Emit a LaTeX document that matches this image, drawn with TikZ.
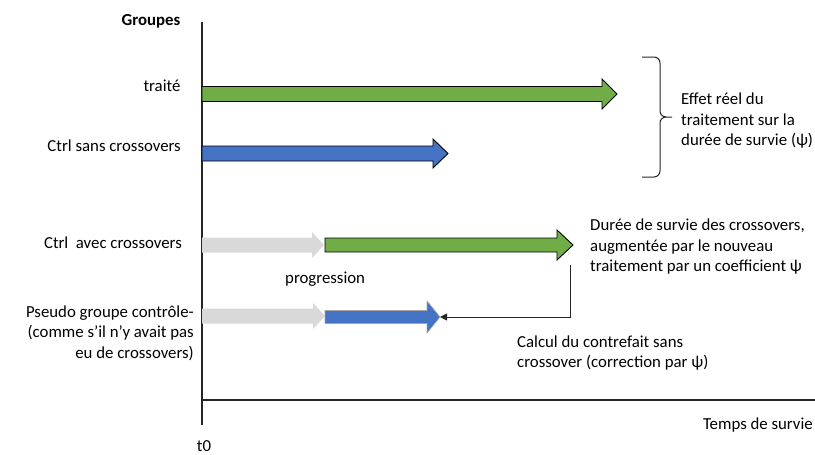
\documentclass[tikz,border=0pt]{standalone}
\usepackage{fontspec}
\setmainfont{Carlito}
\usetikzlibrary{arrows.meta}
\definecolor{mgreen}{HTML}{70AD47}
\definecolor{mblue}{HTML}{4472C4}
\definecolor{mgray}{HTML}{D9D9D9}
\newcommand\fatarrow[8]{%
  \draw[#1] (#3,{#5-#6}) -- ({#4-#8},{#5-#6}) -- ({#4-#8},{#5-#7}) -- (#4,#5)
    -- ({#4-#8},{#5+#7}) -- ({#4-#8},{#5+#6}) -- (#3,{#5+#6}) -- cycle;
  \coordinate (#2) at (#4,#5);}
\tikzset{
  lbl/.style={inner sep=0pt, font=\fontsize{16.8}{20.5}\selectfont},
  axis/.style={line width=1.1pt, draw=black!85},
  greenarr/.style={fill=mgreen, draw=black, line width=0.9pt},
  bluearr/.style={fill=mblue, draw=black, line width=0.9pt},
  bluearrsoft/.style={fill=mblue, draw=black!35, line width=0.6pt},
  grayarr/.style={fill=mgray, draw=none},
  conn/.style={line width=0.9pt, draw=black!85},
  bracestyle/.style={line width=1pt, draw=black!85}
}
\begin{document}
\begin{tikzpicture}[x=1pt, y=-1pt]
\useasboundingbox (0,0) rectangle (815,455);
% axes
\coordinate (ytop) at (202,22);
\coordinate (ybot) at (202,425);
\coordinate (xl) at (202,400);
\coordinate (xr) at (815,400);
\draw[axis] (ytop) -- (ybot);
\draw[axis] (xl) -- (xr);
% arrows
\fatarrow{greenarr}{g1}{202}{617}{94}{7.5}{15}{15}
\fatarrow{bluearr}{b1}{202}{448}{153.5}{7.5}{14.5}{15}
\fatarrow{grayarr}{gr1}{202}{324}{245}{7.5}{13}{12}
\fatarrow{greenarr}{g2}{325}{573}{245}{7}{15}{16}
\fatarrow{grayarr}{gr2}{202}{325}{316}{7.5}{13}{12}
\fatarrow{bluearrsoft}{b2}{325}{440}{317}{6.5}{16}{13}
% connector
\coordinate (cstart) at (570,265);
\draw[conn, -{Triangle[length=7pt,width=7pt]}] (cstart) |- (b2);
% brace
\draw[bracestyle] (642,57) -- (654,57) to[out=0,in=90] (660,63) -- (660,111)
  to[out=-90,in=180] (666,117) -- (672,117);
\draw[bracestyle] (666,117) to[out=180,in=90] (660,123) -- (660,171)
  to[out=-90,in=0] (654,177) -- (642,177);
% labels
\node[lbl, font=\fontsize{16.8}{20.5}\selectfont\bfseries] (groupes) at (151,21) {Groupes};
\node[lbl] (traite) at (162,86) {traité};
\node[lbl, anchor=east] (ctrlsans) at (181,146) {Ctrl sans crossovers};
\node[lbl, anchor=east] (ctrlavec) at (182,243) {Ctrl~ avec crossovers};
\node[lbl, anchor=east, align=right] (pseudo) at (194,333) {Pseudo groupe contrôle-\\(comme s’il n’y avait pas\\eu de crossovers)};
\node[lbl, anchor=west] (prog) at (285,279) {progression};
\node[lbl, anchor=west, align=left] (effet) at (681,121) {Effet réel du\\traitement sur la\\durée de survie (ψ)};
\node[lbl, anchor=west, align=left] (duree) at (590,247) {Durée de survie des crossovers,\\augmentée par le nouveau\\traitement par un coefficient ψ};
\node[lbl, anchor=west, align=left] (calcul) at (517,353) {Calcul du contrefait sans\\crossover (correction par ψ)};
\node[lbl, anchor=east] (temps) at (813,425) {Temps de survie};
\node[lbl] (t0) at (204,446) {t0};
\end{tikzpicture}
\end{document}
